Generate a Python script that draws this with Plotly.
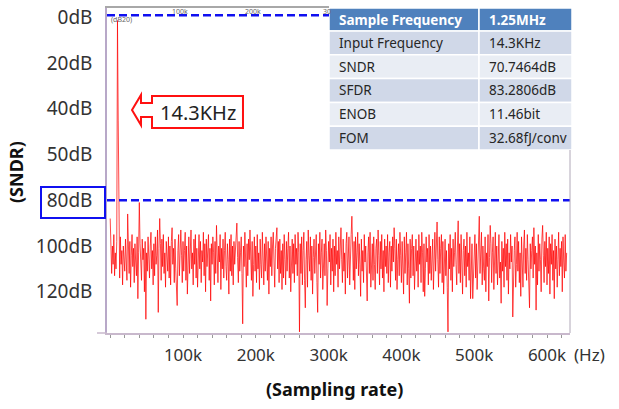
import plotly.graph_objects as go

# ---------------- data ----------------
bin_width_hz = 1000
sndr_db = [
    -88, -97, -112, -100, -108, -95, -113, -103, -110, -98, -1.5, -45, -99, -114, -96, -108, -102, -117, -100, -106,
    -111, -97, -105, -115, -86, -102, -112, -98, -118, -104, -95, -109, -101, -116, -99, -107, -113, -96, -123, -103,
    -81, -99, -110, -115, -97, -106, -101, -120, -98, -132, -103, -111, -96, -108, -114, -100, -94, -110, -102, -117,
    -99, -113, -96, -108, -104, -93, -129, -101, -88, -99, -115, -97, -109, -95, -112, -103, -118, -98, -106, -111,
    -96, -114, -100, -117, -98, -92, -108, -101, -116, -97, -110, -119, -126, -102, -95, -113, -99, -93, -104, -116,
    -98, -111, -102, -94, -115, -100, -121, -105, -96, -112, -99, -93, -110, -103, -117, -97, -108, -95, -114, -101,
    -118, -100, -95, -110, -98, -116, -102, -107, -94, -113, -99, -120, -97, -109, -103, -95, -115, -101, -124, -99,
    -108, -96, -103, -117, -98, -112, -91, -104, -116, -100, -107, -95, -119, -101, -110, -97, -114, -102, -94, -109,
    -115, -99, -106, -121, -97, -111, -95, -113, -100, -117, -98, -108, -102, -93, -90, -105, -116, -98, -111, -103,
    -96, -112, -134, -100, -109, -94, -107, -118, -99, -113, -97, -106, -93, -104, -115, -98, -122, -108, -96, -111,
    -100, -116, -95, -110, -103, -119, -97, -108, -114, -94, -102, -117, -99, -111, -96, -107, -115, -98, -121, -101,
    -109, -96, -113, -100, -94, -107, -118, -101, -95, -92, -110, -98, -116, -97, -112, -102, -119, -99, -114, -95,
    -106, -117, -98, -111, -101, -94, -114, -100, -120, -104, -97, -112, -99, -116, -95, -108, -101, -113, -94, -103,
    -137.5, -99, -112, -96, -117, -102, -94, -115, -127, -106, -98, -118, -93, -104, -111, -96, -115, -100, -121, -105,
    -97, -112, -101, -95, -116, -129, -99, -108, -94, -114, -103, -97, -119, -105, -99, -113, -93, -102, -126, -110,
    -98, -107, -95, -117, -101, -111, -97, -120, -100, -113, -94, -108, -102, -118, -96, -110, -99, -92, -106, -116,
    -97, -111, -103, -121, -99, -94, -114, -105, -96, -117, -101, -95, -87, -104, -115, -98, -119, -96, -110, -103,
    -94, -113, -99, -108, -122, -97, -111, -102, -116, -95, -107, -100, -114, -124, -103, -96, -112, -94, -118, -105,
    -99, -115, -96, -108, -119, -101, -97, -112, -93, -104, -117, -98, -110, -95, -114, -102, -120, -97, -109, -100,
    -112, -95, -116, -103, -98, -118, -100, -111, -96, -107, -92, -101, -115, -97, -119, -106, -99, -113, -94, -104,
    -116, -98, -109, -121, -96, -112, -103, -94, -117, -99, -110, -125, -97, -114, -101, -95, -113, -100, -119, -106,
    -97, -111, -102, -118, -95, -108, -100, -116, -94, -103, -120, -99, -122, -110, -96, -107, -101, -117, -95, -112,
    -100, -115, -108, -97, -119, -103, -94, -111, -99, -89.5, -106, -118, -96, -112, -101, -95, -116, -98, -121, -104,
    -97, -113, -102, -118, -137.5, -99, -110, -95, -115, -101, -120, -97, -109, -103, -94, -108, -117, -100, -89, -112,
    -99, -116, -95, -107, -121, -102, -97, -113, -100, -118, -94, -109, -103, -115, -96, -123, -107, -99, -123, -111,
    -102, -95, -114, -99, -119, -108, -97, -87, -112, -101, -94, -117, -100, -110, -115, -96, -120, -103, -109, -95,
    -124, -105, -91, -99, -116, -103, -96, -119, -108, -94, -112, -100, -117, -102, -95, -114, -107, -125, -98, -111,
    -101, -118, -94, -109, -99, -115, -97, -121, -103, -110, -95, -107, -100, -131, -113, -102, -96, -118, -108, -94,
    -111, -98, -116, -103, -122, -96, -107, -118, -100, -93, -112, -101, -115, -95, -106, -119, -127, -99, -110, -102,
    -96, -114, -92, -108, -100, -128, -103, -117, -95, -111, -99, -106, -120, -97, -91, -104, -116, -98, -109, -94,
    -117, -101, -112, -96, -121, -99, -108, -95, -115, -102, -123, -97, -110, -100, -118, -106, -94, -113, -101, -109,
    -98, -120, -96, -107, -114, -95, -111, -103,
]
freq_hz = [i * bin_width_hz for i in range(len(sndr_db))]

x_tick_vals = [100000, 200000, 300000, 400000, 500000, 600000]
x_tick_text = ["100k", "200k", "300k", "400k", "500k", "600k"]
y_tick_vals = [0, -20, -40, -60, -80, -100, -120]
y_tick_text = ["0dB", "20dB", "40dB", "50dB", "80dB", "100dB", "120dB"]

table_header = ["Sample Frequency", "1.25MHz"]
table_params = ["Input Frequency", "SNDR", "SFDR", "ENOB", "FOM"]
table_values = ["14.3KHz", "70.7464dB", "83.2806dB", "11.46bit", "32.68fJ/conv"]

signal_label = "14.3KHz"
ref_lines_db = [0, -80]

# ---------------- layout helpers ----------------
W, H = 619, 409
L, R, T, B = 107, 570, 7, 333
FONT = "Noto Sans"

def px(xp):
    return (xp - L) / (R - L)

def py(yp):
    return (B - yp) / (B - T)

fig = go.Figure()

fig.add_trace(go.Scatter(
    x=freq_hz, y=sndr_db, mode="lines",
    line=dict(color="rgba(255,0,0,0.72)", width=1),
    hoverinfo="skip", showlegend=False,
))

shapes = []
annotations = []

def ann(text, x, y, size, color="#222222", **kw):
    d = dict(text=text, xref="paper", yref="paper", x=px(x), y=py(y),
             xanchor="center", yanchor="middle", showarrow=False,
             font=dict(family=FONT, size=size, color=color))
    d.update(kw)
    return d

# ---- table drawn from the table arrays ----
tx0, tsplit, tx1 = 329, 479, 572
ty0, hdr_h, row_h = 8, 23, 23.8
col_edges = [(tx0, tsplit), (tsplit, tx1)]
rows = [table_header] + [[p, v] for p, v in zip(table_params, table_values)]
for r_i, row in enumerate(rows):
    if r_i == 0:
        y_top, y_bot = ty0, ty0 + hdr_h
        fill, fcol, txt_fmt = "#4F81BD", "white", "<b>%s</b>"
    else:
        y_top = ty0 + hdr_h + (r_i - 1) * row_h
        y_bot = y_top + row_h
        fill = "#D0D8E8" if r_i % 2 == 1 else "#E9EDF4"
        fcol, txt_fmt = "#262626", "%s"
    for (cx0, cx1), txt in zip(col_edges, row):
        shapes.append(dict(type="rect", xref="paper", yref="paper",
                           x0=px(cx0), x1=px(cx1), y0=py(y_bot), y1=py(y_top),
                           fillcolor=fill, line=dict(color="white", width=1.5)))
        annotations.append(ann(txt_fmt % txt, cx0 + 8, (y_top + y_bot) / 2, 13.5, fcol,
                               xanchor="left"))

shapes.append(dict(type="line", xref="paper", yref="y", x0=0, x1=px(329),
                   y0=ref_lines_db[0] + 0.8, y1=ref_lines_db[0] + 0.8,
                   line=dict(color="#1010f0", width=2.5, dash="8px,4px")))
shapes.append(dict(type="line", xref="paper", yref="y", x0=0, x1=1,
                   y0=ref_lines_db[1], y1=ref_lines_db[1],
                   line=dict(color="#1010f0", width=2.5, dash="8px,4px")))
shapes.append(dict(type="line", xref="paper", yref="paper", x0=px(105), x1=px(329),
                   y0=py(7), y1=py(7), line=dict(color="#a8a8a8", width=2)))
shapes.append(dict(type="line", xref="paper", yref="paper", x0=1, x1=1,
                   y0=0, y1=py(150), line=dict(color="#b0a8b8", width=1)))
shapes.append(dict(type="line", xref="paper", yref="paper", x0=px(97), x1=0,
                   y0=0, y1=0, line=dict(color="#c8b8cc", width=1.5)))
shapes.append(dict(type="rect", xref="paper", yref="paper",
                   x0=px(41), x1=px(105), y0=py(218), y1=py(187),
                   line=dict(color="#1010f0", width=2)))
pts = [(132, 110), (141, 95), (141, 103), (152, 103), (152, 96), (243, 96),
       (243, 128), (152, 128), (152, 117), (141, 117), (141, 125)]
path = "M " + " L ".join("%.4f,%.4f" % (px(a), py(b)) for a, b in pts) + " Z"
shapes.append(dict(type="path", xref="paper", yref="paper", path=path,
                   fillcolor="white", line=dict(color="#ff1010", width=2)))

annotations += [
    ann(signal_label, 198, 112, 20),
    ann("(Hz)", 589, 354, 17, "#333333"),
    ann("<b>(Sampling rate)</b>", 334, 389, 18, "#111111"),
    ann("<b>(SNDR)</b>", 16, 172, 18, "#111111", textangle=-90),
    ann("(dB20)", 109, 20, 7, "#666666", xanchor="left"),
    ann("100k", 180, 11, 7, "#666666"),
    ann("200k", 253, 11, 7, "#666666"),
    ann("30", 327, 11, 7, "#666666"),
]

fig.update_layout(
    width=W, height=H,
    margin=dict(l=L, r=W - R, t=T, b=H - B, autoexpand=False),
    paper_bgcolor="white", plot_bgcolor="white",
    showlegend=False,
    shapes=shapes, annotations=annotations,
    xaxis=dict(range=[-4400, 631600], tickvals=x_tick_vals, ticktext=x_tick_text,
               tickfont=dict(family=FONT, size=17, color="#333333"),
               showgrid=False, zeroline=False,
               showline=True, linecolor="#c8b8cc", linewidth=1.5,
               ticks="outside", ticklen=3, tickcolor="#999999",
               minor=dict(dtick=20000, tick0=0, ticks="outside", ticklen=3, tickcolor="#999999"),
               ticklabelstandoff=3),
    yaxis=dict(range=[-138, 4.4], tickvals=y_tick_vals, ticktext=y_tick_text,
               tickfont=dict(family=FONT, size=19, color="#333333"),
               showgrid=False, zeroline=False,
               showline=True, linecolor="#b8a8c8", linewidth=1.5,
               ticks="", ticklabelstandoff=9),
)

fig.write_html("out.html", config={"displayModeBar": False},
               post_script="document.body.style.margin='0';document.body.style.padding='0';")
